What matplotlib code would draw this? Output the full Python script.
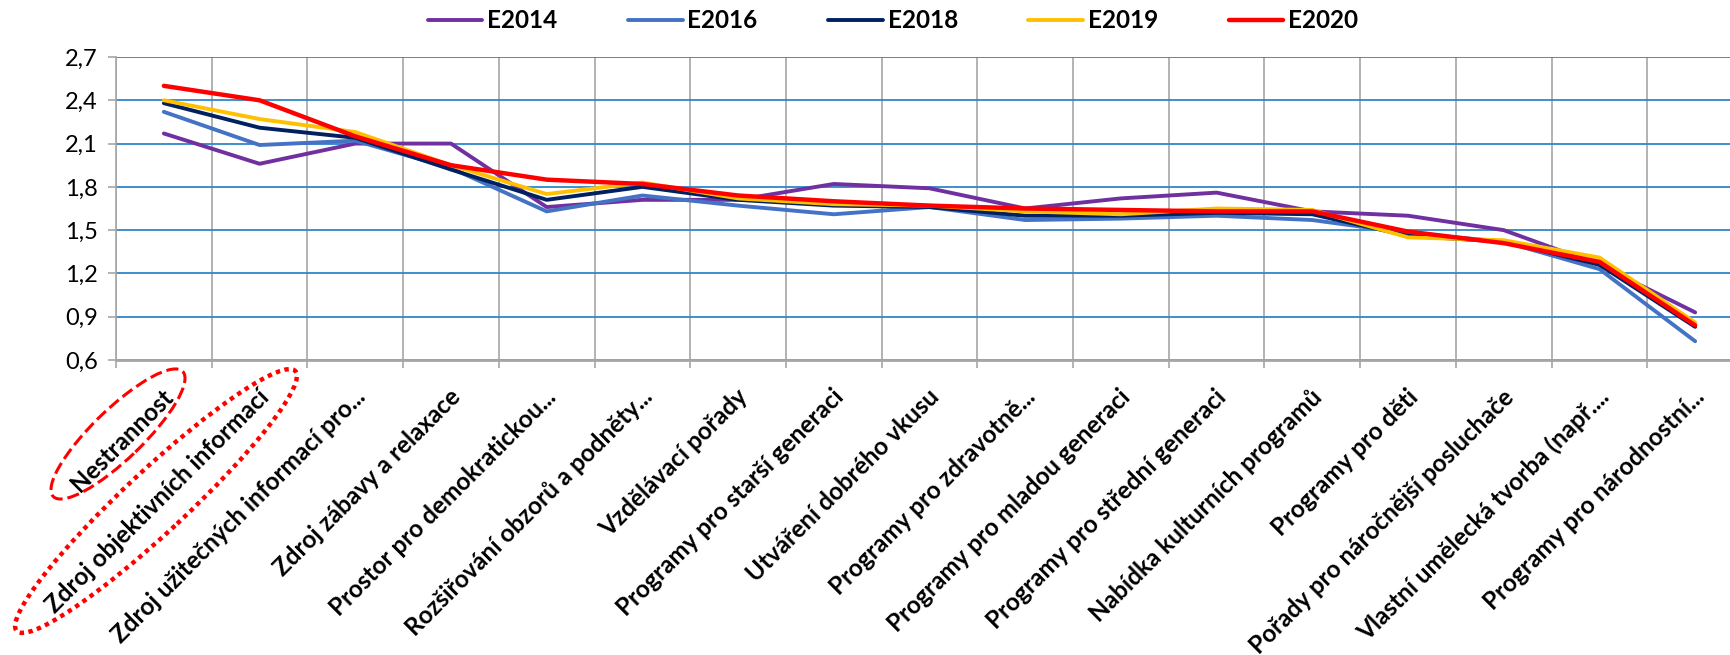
import matplotlib.pyplot as plt
import numpy as np
from matplotlib.patches import Ellipse
from matplotlib.ticker import FixedLocator, FuncFormatter
from matplotlib.transforms import ScaledTranslation

plt.rcParams['font.family'] = ['Lato', 'DejaVu Sans']

categories = ['Nestrannost', 'Zdroj objektivních informací', 'Zdroj užitečných informací pro...',
              'Zdroj zábavy a relaxace', 'Prostor pro demokratickou...', 'Rozšiřování obzorů a podněty...',
              'Vzdělávací pořady', 'Programy pro starší generaci', 'Utváření dobrého vkusu',
              'Programy pro zdravotně...', 'Programy pro mladou generaci', 'Programy pro střední generaci',
              'Nabídka kulturních programů', 'Programy pro děti', 'Pořady pro náročnější posluchače',
              'Vlastní umělecká tvorba (např....', 'Programy pro národnostní...']

e2014 = [2.17, 1.96, 2.10, 2.10, 1.66, 1.71, 1.71, 1.82, 1.79, 1.65, 1.72, 1.76, 1.63, 1.60, 1.50, 1.26, 0.93]
e2016 = [2.32, 2.09, 2.12, 1.93, 1.63, 1.74, 1.67, 1.61, 1.66, 1.57, 1.58, 1.60, 1.57, 1.48, 1.42, 1.23, 0.73]
e2018 = [2.38, 2.21, 2.14, 1.92, 1.71, 1.80, 1.71, 1.67, 1.66, 1.60, 1.60, 1.62, 1.61, 1.46, 1.42, 1.26, 0.83]
e2019 = [2.40, 2.27, 2.18, 1.95, 1.75, 1.83, 1.72, 1.68, 1.67, 1.63, 1.61, 1.65, 1.64, 1.45, 1.43, 1.31, 0.86]
e2020 = [2.50, 2.40, 2.15, 1.95, 1.85, 1.82, 1.74, 1.70, 1.67, 1.65, 1.64, 1.63, 1.63, 1.49, 1.41, 1.28, 0.84]

series = ['E2014', 'E2016', 'E2018', 'E2019', 'E2020']
colors = ['#7030A0', '#4472C4', '#002060', '#FFC000', '#FF0000']
widths = [2.8, 2.8, 2.8, 2.8, 3.2]

fig = plt.figure(figsize=(17.31, 6.55), dpi=100)
ax = fig.add_axes([116 / 1731, 295 / 655, 1627 / 1731, 303 / 655])

x = np.arange(len(categories))
for name, vals, c, lw in zip(series, [e2014, e2016, e2018, e2019, e2020], colors, widths):
    ax.plot(x, vals, color=c, lw=lw, label=name, solid_joinstyle='round', solid_capstyle='round')

ax.set_xlim(-0.5, len(categories) - 0.5)
ax.set_ylim(0.6, 2.7)
ax.yaxis.set_major_locator(FixedLocator(np.arange(0.6, 2.71, 0.3)))
ax.yaxis.set_major_formatter(FuncFormatter(lambda v, p: f'{v:.1f}'.replace('.', ',')))
ax.grid(axis='y', color='#2F87CC', lw=1.3)

ax.set_xticks(x)
ax.set_xticklabels(categories, rotation=45, ha='right', va='center', rotation_mode='anchor',
                   fontsize=17.5, fontweight='bold')
ax.tick_params(axis='x', which='major', length=0, pad=24)
for lbl in ax.get_xticklabels():
    lbl.set_transform(lbl.get_transform() + ScaledTranslation(0.06, 0, fig.dpi_scale_trans))
ax.set_xticks(np.arange(-0.5, len(categories)), minor=True)
ax.tick_params(axis='x', which='minor', length=6, color='#A6A6A6', width=1.2)
ax.grid(axis='x', which='minor', color='#A6A6A6', lw=1.2)
ax.tick_params(axis='y', length=6, color='#A6A6A6', width=1.2, labelsize=17, pad=7)
ax.set_axisbelow(True)

for s in ['top', 'right']:
    ax.spines[s].set_visible(False)
ax.spines['left'].set_color('#A6A6A6')
ax.spines['left'].set_linewidth(1.2)
ax.spines['bottom'].set_color('#A6A6A6')
ax.spines['bottom'].set_linewidth(2)

fig.legend(loc='center', bbox_to_anchor=(893 / 1731, 1 - 21 / 655), ncol=5, frameon=False,
           prop={'weight': 'bold', 'size': 17.5}, handlelength=2.25, handletextpad=0.2,
           columnspacing=2.9)

# red highlight ellipses around first two labels
fig.patches.append(Ellipse((1.18, 2.21), 1.8, 0.5, angle=44, fill=False, ec='#FF0000', lw=2.2,
                           ls=(0, (4, 1.6)), transform=fig.dpi_scale_trans))
fig.patches.append(Ellipse((1.56, 1.54), 3.81, 0.62, angle=43, fill=False, ec='#FF0000', lw=3.2,
                           ls=(0, (1, 1)), transform=fig.dpi_scale_trans))

fig.savefig('out.png', dpi=100)
